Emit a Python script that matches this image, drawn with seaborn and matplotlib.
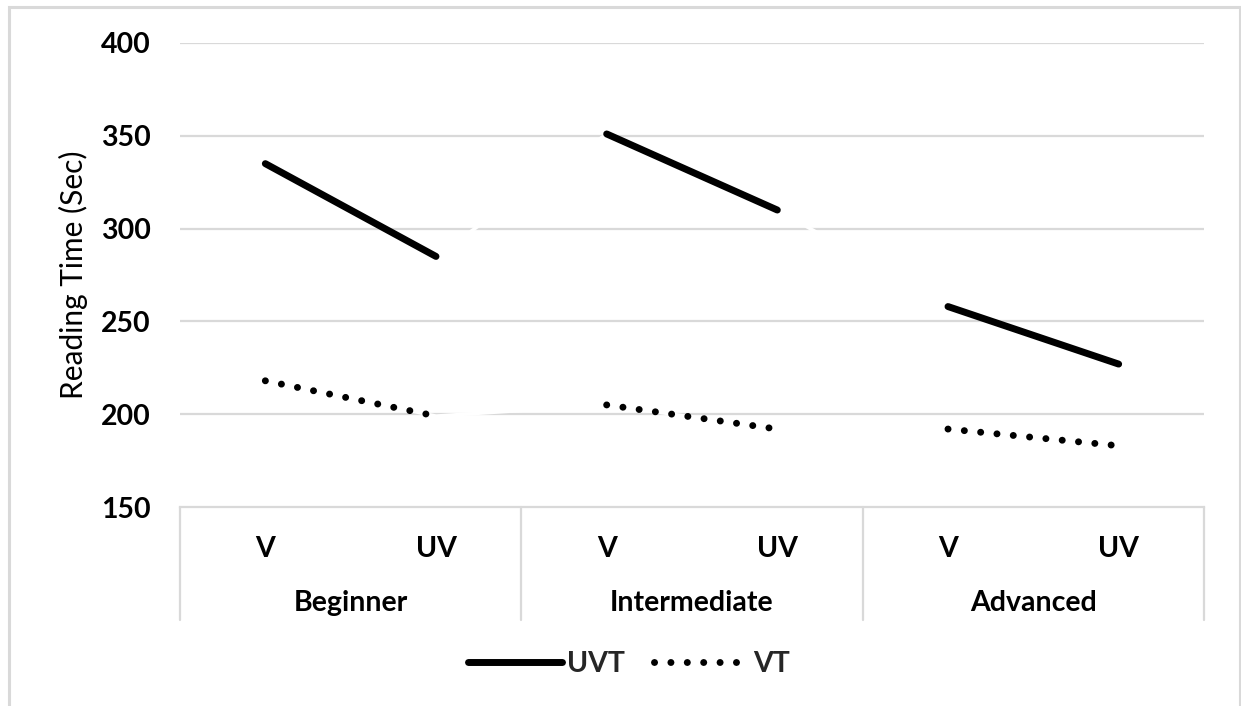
import numpy as np
import pandas as pd
import matplotlib
matplotlib.use("Agg")
import matplotlib.pyplot as plt
from matplotlib.lines import Line2D
from matplotlib.patches import Rectangle
import seaborn as sns

# ---- data ----
groups = ["Beginner", "Intermediate", "Advanced"]
conditions = ["V", "UV"]
uvt_values = [335, 285, 351, 310, 258, 227]
vt_values = [218, 199, 205, 192, 192, 183]
series_names = ["UVT", "VT"]
y_ticks = [150, 200, 250, 300, 350, 400]

rows = []
for s, vals in zip(series_names, [uvt_values, vt_values]):
    for i, v in enumerate(vals):
        rows.append({"series": s, "group": groups[i // 2], "cond": conditions[i % 2],
                     "pos": i, "value": v})
df = pd.DataFrame(rows)

sns.set_theme(style="white")
plt.rcParams["font.family"] = ["Lato", "DejaVu Sans"]

W, H = 1241, 706
fig = plt.figure(figsize=(W / 100, H / 100), dpi=100)
ax = fig.add_axes([180 / W, (H - 507) / H, (1204 - 180) / W, (507 - 43) / H])

grid_c = "#d9d9d9"
ax.set_ylim(150, 400)
ax.set_xlim(-0.5, 5.5)
ax.set_yticks(y_ticks)
for y in y_ticks[1:]:
    ax.axhline(y, color=grid_c, lw=1.6, zorder=0)

# white connectors between groups (as in the original, cutting gridlines)
for s in series_names:
    sub = df[df.series == s]
    sns.lineplot(data=sub, x="pos", y="value", ax=ax, color="white", lw=2.5,
                 estimator=None, sort=False, legend=False, zorder=1)

lw = 5.0
dots = (0, (0.01, 2.35))
for s in series_names:
    for g in groups:
        sub = df[(df.series == s) & (df.group == g)]
        if s == "UVT":
            sns.lineplot(data=sub, x="pos", y="value", ax=ax, color="black", lw=lw,
                         estimator=None, legend=False, zorder=3,
                         solid_capstyle="round")
        else:
            sns.lineplot(data=sub, x="pos", y="value", ax=ax, color="black", lw=lw,
                         estimator=None, legend=False, zorder=3,
                         linestyle=dots, dash_capstyle="round")

# spines
for sp in ["top", "right", "left"]:
    ax.spines[sp].set_visible(False)
ax.spines["bottom"].set_color(grid_c)
ax.spines["bottom"].set_linewidth(1.6)

fs = 20.5
ax.set_xlabel("")
ax.set_ylabel("Reading Time (Sec)", fontsize=21.5, labelpad=9, color="#000000")
ax.tick_params(axis="y", length=0, pad=21, labelsize=fs, labelcolor="black")
for t in ax.get_yticklabels():
    t.set_fontweight("bold")

ax.set_xticks(range(6))
ax.set_xticklabels(conditions * 3, fontsize=fs, fontweight="bold", color="black")
ax.tick_params(axis="x", length=0, pad=21)

# group labels and separators
trans = ax.get_xaxis_transform()
y_bot = -(620 - 507) / (507 - 43)
for x in [-0.5, 1.5, 3.5, 5.5]:
    ax.plot([x, x], [0, y_bot], color=grid_c, lw=1.6, transform=trans, clip_on=False)
y_grp = -(603 - 507) / (507 - 43)
for i, g in enumerate(groups):
    ax.text(2 * i + 0.5, y_grp, g, transform=trans, ha="center", va="center",
            fontsize=fs, fontweight="bold", color="black")

# legend
handles = [Line2D([0], [0], color="black", lw=lw, solid_capstyle="round"),
           Line2D([0], [0], color="black", lw=lw, linestyle=dots,
                  dash_capstyle="round")]
leg = fig.legend(handles, series_names, loc="center", bbox_to_anchor=(629 / W, 1 - 664 / H),
                 ncol=2, frameon=False, handlelength=3.3, handletextpad=0.2,
                 columnspacing=1.0, prop={"size": fs, "weight": "bold"})

# outer frame
fig.patches.append(Rectangle((8.5 / W, -0.05), (1240 - 8.5) / W, 1.05 - 6.5 / H,
                             transform=fig.transFigure, fill=False, ec=grid_c, lw=2.2))

fig.savefig("out.png", dpi=100)
